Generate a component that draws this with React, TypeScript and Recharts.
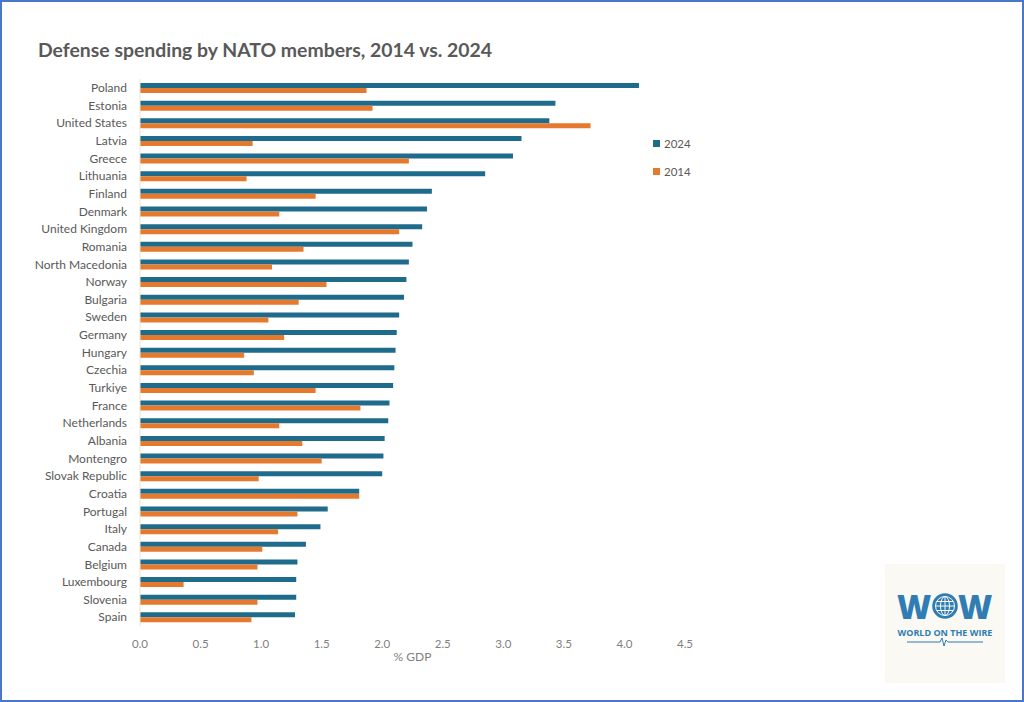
import React from "react";
import { BarChart, Bar, XAxis, YAxis, Legend } from "recharts";

const countries = [
  "Poland", "Estonia", "United States", "Latvia", "Greece", "Lithuania",
  "Finland", "Denmark", "United Kingdom", "Romania", "North Macedonia",
  "Norway", "Bulgaria", "Sweden", "Germany", "Hungary", "Czechia", "Turkiye",
  "France", "Netherlands", "Albania", "Montengro", "Slovak Republic",
  "Croatia", "Portugal", "Italy", "Canada", "Belgium", "Luxembourg",
  "Slovenia", "Spain",
];

const spend2024 = [
  4.12, 3.43, 3.38, 3.15, 3.08, 2.85, 2.41, 2.37, 2.33, 2.25, 2.22, 2.2, 2.18,
  2.14, 2.12, 2.11, 2.1, 2.09, 2.06, 2.05, 2.02, 2.01, 2.0, 1.81, 1.55, 1.49,
  1.37, 1.3, 1.29, 1.29, 1.28,
];

const spend2014 = [
  1.87, 1.92, 3.72, 0.93, 2.22, 0.88, 1.45, 1.15, 2.14, 1.35, 1.09, 1.54, 1.31,
  1.06, 1.19, 0.86, 0.94, 1.45, 1.82, 1.15, 1.34, 1.5, 0.98, 1.81, 1.3, 1.14,
  1.01, 0.97, 0.36, 0.97, 0.92,
];

const xTicks = [0, 0.5, 1, 1.5, 2, 2.5, 3, 3.5, 4, 4.5];

const BLUE = "#1f6b8c";
const ORANGE = "#e57a2e";
const FONT = "Lato, 'Open Sans', sans-serif";

const data = countries.map((country, i) => ({
  country,
  y2024: spend2024[i],
  y2014: spend2014[i],
}));

const LegendBox = () => (
  <div style={{ fontFamily: FONT, fontSize: 11.5, color: "#595959" }}>
    {[
      { c: BLUE, t: "2024" },
      { c: ORANGE, t: "2014" },
    ].map((it) => (
      <div key={it.t} style={{ display: "flex", alignItems: "center", height: 28 }}>
        <span style={{ width: 7, height: 7, background: it.c, marginRight: 4 }} />
        {it.t}
      </div>
    ))}
  </div>
);

const Logo = () => (
  <div
    style={{
      position: "absolute",
      left: 883,
      top: 562,
      width: 120,
      height: 119,
      background: "#fbf9f3",
    }}
  >
    <svg width={120} height={119}>
      <text x={12} y={55} fontFamily="'Open Sans', sans-serif" fontWeight={800} fontSize={33} fill="#2f7db3">
        W
      </text>
      <g transform="translate(60,42)" stroke="#2f7db3" fill="none" strokeWidth={1.6}>
        <circle r={12} fill="#2f7db3" />
        <circle r={9.5} stroke="#fbf9f3" strokeWidth={1} />
        <ellipse rx={4.5} ry={9.5} stroke="#fbf9f3" strokeWidth={1} />
        <line x1={-9.5} x2={9.5} y1={0} y2={0} stroke="#fbf9f3" strokeWidth={1} />
        <line x1={-8.5} x2={8.5} y1={-4.5} y2={-4.5} stroke="#fbf9f3" strokeWidth={1} />
        <line x1={-8.5} x2={8.5} y1={4.5} y2={4.5} stroke="#fbf9f3" strokeWidth={1} />
        <line x1={0} x2={0} y1={-9.5} y2={9.5} stroke="#fbf9f3" strokeWidth={1} />
      </g>
      <text x={73} y={55} fontFamily="'Open Sans', sans-serif" fontWeight={800} fontSize={33} fill="#2f7db3">
        W
      </text>
      <text x={60} y={72} textAnchor="middle" fontFamily="'Open Sans', sans-serif" fontWeight={700} fontSize={9} fill="#2f7db3">
        WORLD ON THE WIRE
      </text>
      <polyline
        points="22,78 55,78 57,74 59,82 61,76 63,78 98,78"
        fill="none"
        stroke="#2f7db3"
        strokeWidth={1}
      />
    </svg>
  </div>
);

export default function App() {
  return (
    <div
      style={{
        position: "absolute",
        left: 0,
        top: 0,
        width: 1024,
        height: 702,
        background: "#fff",
        border: "2px solid #4a78c8",
        boxSizing: "border-box",
        overflow: "hidden",
      }}
    >
      <div
        style={{
          position: "absolute",
          left: 36,
          top: 36,
          fontFamily: FONT,
          fontWeight: 700,
          fontSize: 19.4,
          color: "#595959",
        }}
      >
        Defense spending by NATO members, 2014 vs. 2024
      </div>
      <div style={{ position: "absolute", left: -2, top: -2 }}>
        <BarChart
          layout="vertical"
          width={1024}
          height={702}
          data={data}
          margin={{ top: 79, right: 339, bottom: 56, left: 0 }}
          barGap={0}
        >
          <XAxis
            type="number"
            domain={[0, 4.5]}
            ticks={xTicks}
            tickFormatter={(v) => v.toFixed(1)}
            axisLine={false}
            tickLine={false}
            tickMargin={8}
            height={20}
            tick={{ fill: "#7f7f7f", fontSize: 11.5, fontFamily: FONT }}
            label={{
              value: "% GDP",
              position: "bottom",
              offset: 6,
              fill: "#7f7f7f",
              fontSize: 12,
              fontFamily: FONT,
            }}
          />
          <YAxis
            type="category"
            dataKey="country"
            width={140}
            interval={0}
            axisLine={{ stroke: "#ebe6cf" }}
            tickLine={false}
            tickMargin={7}
            tick={{ fill: "#595959", fontSize: 12, fontFamily: FONT }}
          />
          <Legend
            layout="vertical"
            verticalAlign="middle"
            align="center"
            wrapperStyle={{ left: 653, top: 129, width: 80 }}
            content={() => <LegendBox />}
          />
          <Bar dataKey="y2024" name="2024" fill={BLUE} barSize={5} isAnimationActive={false} />
          <Bar dataKey="y2014" name="2014" fill={ORANGE} barSize={5} isAnimationActive={false} />
        </BarChart>
      </div>
      <Logo />
    </div>
  );
}
